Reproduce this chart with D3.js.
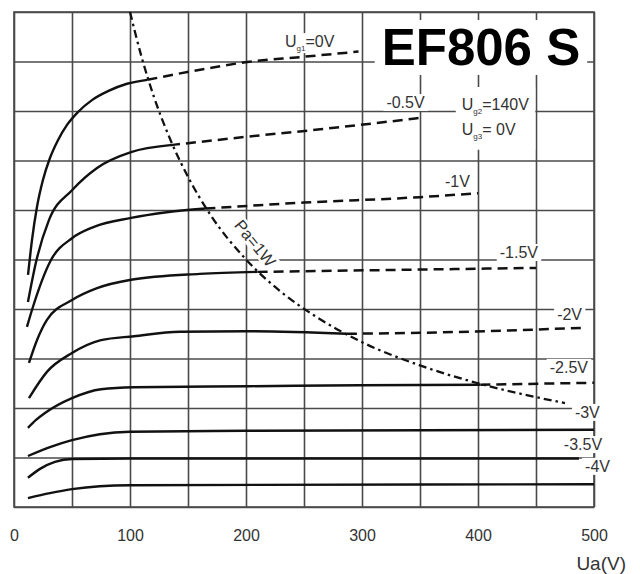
<!DOCTYPE html>
<html lang="de">
<head>
<meta charset="UTF-8">
<title>EF806 S</title>
<script src="https://cdn.jsdelivr.net/npm/d3@7"></script>
<style>
  body { margin: 0; background: #fff; }
  svg { display: block; font-family: 'Liberation Sans', Arial, sans-serif; }
  .grid line { stroke: #4a4a4a; stroke-width: 1.6; }
  .grid path { display: none; }
  .frame { fill: none; stroke: #4a4a4a; stroke-width: 1.6; }
  .solid { fill: none; stroke: #111; stroke-width: 2.4; }
  .dashed { fill: none; stroke: #111; stroke-width: 2.5; stroke-dasharray: 10 6; }
  .pa { fill: none; stroke: #111; stroke-width: 2.3; stroke-dasharray: 8 4 2.5 4; }
  .lbl { font-size: 16px; fill: #333; }
  .ticks text { font-size: 16px; fill: #333; }
  .title { font-size: 51px; font-weight: bold; fill: #000; }
</style>
</head>
<body>
<svg id="chart" width="640" height="574"></svg>
<script>
// Ug1 steps, top curve first
const ug1 = ["0V", "-0.5V", "-1V", "-1.5V", "-2V", "-2.5V", "-3V", "-3.5V", "-4V"];
const uaTicks = [0, 100, 200, 300, 400, 500];

// Ia (mA) against Ua (V)
const ia_0   = [[12.1,4.69],[15.5,5.39],[19.8,6.06],[25,6.61],[31,7.05],[37.9,7.41],[45.7,7.72],[55.2,7.98],[67.2,8.22],[81,8.4],[97.4,8.55],[115,8.63],[169,8.87],[201,8.99],[247,9.09],[297,9.2]];
const ia_05  = [[12,4.14],[19,4.95],[30.2,5.8],[50,6.4],[71.6,6.85],[100.9,7.17],[134.5,7.31],[201,7.48],[264,7.63],[350,7.86]];
const ia_1   = [[11.2,3.64],[15.5,3.98],[31.9,4.99],[50,5.43],[69,5.66],[100.9,5.84],[130,5.95],[165,6.03],[250,6.15],[350,6.26],[400,6.34]];
const ia_15  = [[12.9,2.91],[19.8,3.37],[28.4,3.78],[50,4.18],[71.6,4.42],[100.9,4.59],[160,4.71],[210,4.75],[330,4.79],[450,4.83]];
const ia_2   = [[12.9,2.2],[28.4,2.73],[50,3.11],[75,3.37],[103.4,3.45],[143,3.54],[200,3.55],[287,3.5],[350,3.52],[492,3.62]];
const ia_25  = [[12,1.6],[19,1.76],[26.7,1.9],[50,2.2],[75,2.38],[103.4,2.42],[203,2.44],[298,2.46],[402,2.47],[500,2.51]];
const ia_3   = [[12,1.03],[31,1.21],[50,1.35],[74,1.47],[100,1.52],[200,1.54],[500,1.56]];
const ia_35  = [[12,0.59],[22.4,0.77],[35.3,0.91],[50,0.97],[100,0.98],[487,0.98]];
const ia_4   = [[12,0.18],[31,0.28],[50,0.36],[74,0.42],[100,0.44],[500,0.46]];
const curves = [ia_0, ia_05, ia_1, ia_15, ia_2, ia_25, ia_3, ia_35, ia_4];

// Ua where a curve meets the Pa=1W line (dashed beyond it)
const paCross = [115, 134.5, 165, 210, 287, 402, null, null, null];

// Pa = 1W limit line
const paUa = [100, 110, 120, 135, 150, 170, 200, 230, 260, 300, 350, 400, 440, 475];
const paIa = [10, 9.09, 8.33, 7.41, 6.67, 5.88, 5, 4.35, 3.85, 3.33, 2.86, 2.5, 2.27, 2.1];

const svg = d3.select('#chart');
const margin = {left: 14, top: 12, right: 46, bottom: 67};
const W = 640 - margin.left - margin.right;
const H = 574 - margin.top - margin.bottom;

const x = d3.scaleLinear().domain([0, 500]).range([0, W]);
const y = d3.scaleLinear().domain([0, 10]).range([H, 0]);

const g = svg.append('g').attr('transform', `translate(${margin.left},${margin.top})`);

// grid
g.append('g').attr('class', 'grid')
    .attr('transform', `translate(0,${H})`)
    .call(d3.axisBottom(x).tickValues(d3.range(0, 501, 50)).tickSize(-H).tickFormat(''));
g.append('g').attr('class', 'grid')
    .call(d3.axisLeft(y).tickValues(d3.range(0, 11, 1)).tickSize(-W).tickFormat(''));
g.append('rect').attr('class', 'frame').attr('width', W).attr('height', H);

const bgLayer = g.append('g');
const lineLayer = g.append('g');
const textLayer = g.append('g');

// x tick labels
g.append('g').attr('class', 'ticks')
    .attr('transform', `translate(0,${H})`)
    .call(d3.axisBottom(x).tickValues(uaTicks).tickSize(0).tickPadding(23))
    .call(a => a.select('.domain').remove())
    .selectAll('text').attr('font-family', null).attr('font-size', null);

svg.append('text').attr('class', 'lbl')
    .attr('x', 626).attr('y', 570)
    .attr('text-anchor', 'end').style('font-size', '19px')
    .text('Ua(V)');

// characteristic curves
const line = d3.line()
    .x(d => x(d[0])).y(d => y(d[1]))
    .curve(d3.curveMonotoneX);

curves.forEach((pts, i) => {
    const cut = paCross[i];
    const solid = cut == null ? pts : pts.filter(p => p[0] <= cut);
    lineLayer.append('path').attr('class', 'solid').attr('d', line(solid));
    if (cut != null) {
        lineLayer.append('path').attr('class', 'dashed')
            .attr('d', line(pts.filter(p => p[0] >= cut)));
    }
});

lineLayer.append('path').attr('class', 'pa')
    .attr('d', line(paUa.map((u, i) => [u, paIa[i]])));

// white box behind a label so grid lines stop at the text
function backing(sel, px, py, transform) {
    const b = sel.node().getBBox();
    bgLayer.append('rect')
        .attr('x', b.x - px).attr('y', b.y - py)
        .attr('width', b.width + 2 * px).attr('height', b.height + 2 * py)
        .attr('transform', transform || null)
        .attr('fill', '#fff');
}

// label anchors (end of text) in Ua / Ia units
const labelAt = [null, [354, 8.06], [393, 6.46], [451.7, 5.03], [489.7, 3.78],
                 [494.8, 2.71], [505, 1.8], [507, 1.15], [513.8, 0.71]];

ug1.forEach((name, i) => {
    if (!labelAt[i]) return;
    const t = textLayer.append('text').attr('class', 'lbl')
        .attr('x', x(labelAt[i][0])).attr('y', y(labelAt[i][1]))
        .attr('text-anchor', 'end')
        .text(name);
    backing(t, 3, 0);
});

// label with a subscript: U_sub + rest
function subLabel(parent, sub, rest, ua, ia) {
    const t = parent.append('text').attr('class', 'lbl')
        .attr('x', x(ua)).attr('y', y(ia));
    t.append('tspan').text('U');
    t.append('tspan').attr('dy', 4).style('font-size', '8px').text(sub);
    t.append('tspan').attr('dy', -4).text(rest);
    return t;
}

const ug1Lbl = subLabel(textLayer, 'g1', '=' + ug1[0], 233.6, 9.29);
backing(ug1Lbl, 3, 0);

const ugBox = textLayer.append('g');
subLabel(ugBox, 'g2', '=140V', 386, 8.02);
subLabel(ugBox, 'g3', '= 0V', 386, 7.52);
backing(ugBox, 6, 9);

const title = textLayer.append('text').attr('class', 'title')
    .attr('x', x(317)).attr('y', y(8.93))
    .text('EF806 S');
backing(title, 7, -1);

// Pa = 1W, turned along the hyperbola
const paT = `translate(${x(207.8)},${y(5.33)}) rotate(51)`;
const paLbl = textLayer.append('text').attr('class', 'lbl')
    .attr('transform', paT)
    .attr('text-anchor', 'middle').attr('dy', '0.35em')
    .style('font-size', '16.5px')
    .text('Pa=1W');
backing(paLbl, 2, -1, paT);
</script>
</body>
</html>
